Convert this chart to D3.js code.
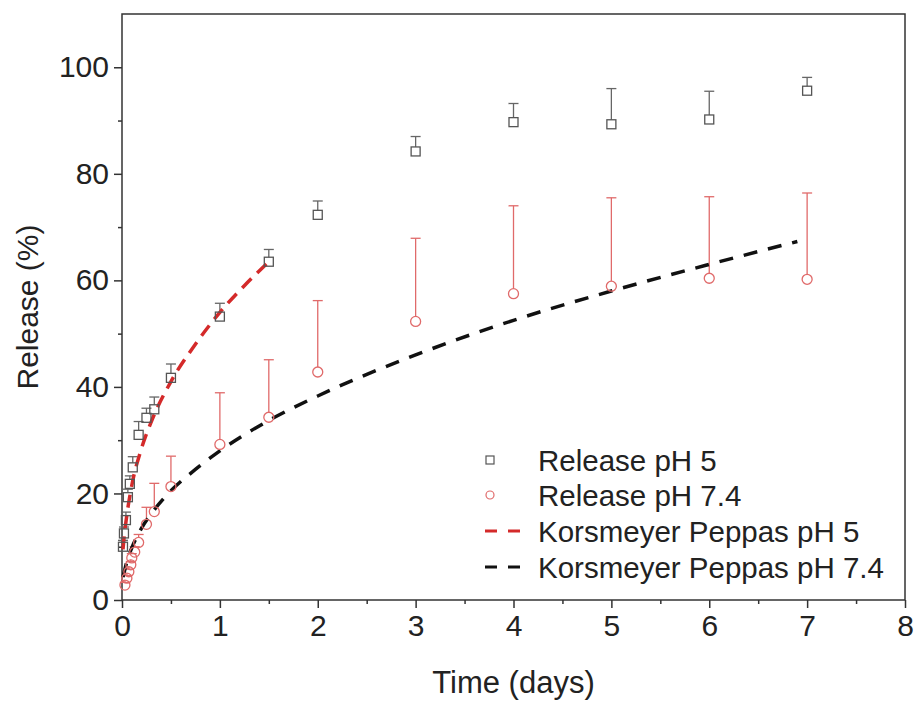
<!DOCTYPE html>
<html>
<head>
<meta charset="utf-8">
<script src="https://cdn.jsdelivr.net/npm/d3@7"></script>
<style>
  body { margin: 0; background: #fff; }
  text { font-family: "Liberation Sans", Arial, sans-serif; fill: #222; }
</style>
</head>
<body>
<div id="chart"></div>
<script>
// measured release, pH 5 (squares) - upper error only
const ph5Time = [0.01, 0.02, 0.04, 0.06, 0.08, 0.11, 0.17, 0.25, 0.33, 0.5, 1, 1.5, 2, 3, 4, 5, 6, 7];
const ph5Release = [10, 12.5, 15, 19.3, 21.8, 24.9, 31, 34.2, 35.8, 41.7, 53.2, 63.5, 72.3, 84.2, 89.7, 89.3, 90.2, 95.6];
const ph5Err = [1.2, 1.2, 1.5, 1.5, 1.5, 2, 2.5, 1.8, 2.3, 2.6, 2.5, 2.3, 2.6, 2.8, 3.5, 6.7, 5.3, 2.5];

// measured release, pH 7.4 (circles)
const ph74Time = [0.03, 0.05, 0.07, 0.09, 0.1, 0.13, 0.17, 0.25, 0.33, 0.5, 1, 1.5, 2, 3, 4, 5, 6, 7];
const ph74Release = [2.8, 4.1, 5.3, 6.6, 7.9, 9.0, 10.8, 14.2, 16.6, 21.3, 29.2, 34.3, 42.8, 52.3, 57.5, 58.9, 60.4, 60.2];
const ph74Err = [0.5, 0.5, 0.5, 0.6, 0.8, 1, 1.5, 3.2, 5.3, 5.7, 9.7, 10.8, 13.4, 15.6, 16.5, 16.6, 15.3, 16.2];

// Korsmeyer-Peppas fit curves
const kpPh5Time = [0.01, 0.02, 0.05, 0.1, 0.2, 0.3, 0.5, 0.75, 1, 1.25, 1.5];
const kpPh5Release = [9.5, 11.5, 16, 21.5, 28.5, 33.5, 41, 48, 54, 59, 63.5];
const kpPh74Time = [0.01, 0.03, 0.06, 0.1, 0.2, 0.3, 0.5, 0.75, 1, 1.5, 2, 3, 4, 5, 6, 6.9];
const kpPh74Release = [4.3, 5.8, 7.9, 9.8, 13.5, 16.2, 20.5, 24.5, 28, 33.7, 38.3, 46, 52.5, 58, 63, 67.3];

const xTicks = [0, 1, 2, 3, 4, 5, 6, 7, 8];
const xMinor = [0.5, 1.5, 2.5, 3.5, 4.5, 5.5, 6.5, 7.5];
const yTicks = [0, 20, 40, 60, 80, 100];
const yMinor = [10, 30, 50, 70, 90];

const legendItems = ["Release pH 5", "Release pH 7.4", "Korsmeyer Peppas pH 5", "Korsmeyer Peppas pH 7.4"];

const width = 915, height = 701;
const margin = { top: 14, right: 10, bottom: 101, left: 122 };

const svg = d3.select("#chart").append("svg")
  .attr("width", width)
  .attr("height", height);

const x = d3.scaleLinear().domain([0, 8]).range([margin.left, width - margin.right]);
const y = d3.scaleLinear().domain([0, 110]).range([height - margin.bottom, margin.top]);

const axisColor = "#333";
const sqColor = "#555";
const ciColor = "#e06a6a";
const redLine = "#d42a2a";

// frame
svg.append("rect")
  .attr("x", x(0)).attr("y", y(110))
  .attr("width", x(8) - x(0)).attr("height", y(0) - y(110))
  .attr("fill", "none").attr("stroke", axisColor).attr("stroke-width", 1.5);

function styleAxis(g) {
  g.select(".domain").remove();
  g.selectAll("line").attr("stroke", axisColor).attr("stroke-width", 1.5);
  g.selectAll("text").attr("fill", "#222");
}

const xAxis = svg.append("g")
  .attr("transform", `translate(0,${y(0)})`)
  .call(d3.axisBottom(x).tickValues(xTicks).tickSize(8).tickPadding(5).tickFormat(d3.format("d")))
  .call(styleAxis);
xAxis.selectAll("text").style("font-size", "30px").attr("dy", "0.75em");

svg.append("g")
  .attr("transform", `translate(0,${y(0)})`)
  .call(d3.axisBottom(x).tickValues(xMinor).tickSize(4).tickFormat(""))
  .call(styleAxis);

const yAxis = svg.append("g")
  .attr("transform", `translate(${x(0)},0)`)
  .call(d3.axisLeft(y).tickValues(yTicks).tickSize(8).tickPadding(5))
  .call(styleAxis);
yAxis.selectAll("text").style("font-size", "30px");

svg.append("g")
  .attr("transform", `translate(${x(0)},0)`)
  .call(d3.axisLeft(y).tickValues(yMinor).tickSize(4).tickFormat(""))
  .call(styleAxis);

// axis titles
svg.append("text")
  .attr("x", (x(0) + x(8)) / 2).attr("y", 693)
  .attr("text-anchor", "middle")
  .style("font-size", "31px")
  .text("Time (days)");

svg.append("text")
  .attr("transform", `translate(38,${(y(0) + y(110)) / 2}) rotate(-90)`)
  .attr("text-anchor", "middle")
  .style("font-size", "30px")
  .text("Release (%)");

const line = d3.line()
  .x(d => x(d[0]))
  .y(d => y(d[1]))
  .curve(d3.curveMonotoneX);

const plot = svg.append("g");

// error bars (upper only)
const ph5 = ph5Time.map((t, i) => ({ t, v: ph5Release[i], e: ph5Err[i] }));
const ph74 = ph74Time.map((t, i) => ({ t, v: ph74Release[i], e: ph74Err[i] }));

function errorBars(data, color, offset) {
  const g = plot.append("g").attr("stroke", color).attr("stroke-width", 1.3);
  g.selectAll(".bar").data(data).enter().append("line")
    .attr("x1", d => x(d.t)).attr("x2", d => x(d.t))
    .attr("y1", d => y(d.v) - offset).attr("y2", d => y(d.v + d.e));
  g.selectAll(".cap").data(data).enter().append("line")
    .attr("x1", d => x(d.t) - 5).attr("x2", d => x(d.t) + 5)
    .attr("y1", d => y(d.v + d.e)).attr("y2", d => y(d.v + d.e));
}
errorBars(ph74, ciColor, 5);
errorBars(ph5, "#666", 4.5);

// fitted curves
plot.append("path")
  .datum(kpPh74Time.map((t, i) => [t, kpPh74Release[i]]))
  .attr("d", line)
  .attr("fill", "none").attr("stroke", "#111").attr("stroke-width", 3.5)
  .attr("stroke-dasharray", "14,11");

plot.append("path")
  .datum(kpPh5Time.map((t, i) => [t, kpPh5Release[i]]))
  .attr("d", line)
  .attr("fill", "none").attr("stroke", redLine).attr("stroke-width", 3.5)
  .attr("stroke-dasharray", "13,8");

// markers
plot.append("g").selectAll("circle").data(ph74).enter().append("circle")
  .attr("cx", d => x(d.t)).attr("cy", d => y(d.v)).attr("r", 5)
  .attr("fill", "none").attr("stroke", ciColor).attr("stroke-width", 1.3);

plot.append("g").selectAll("rect").data(ph5).enter().append("rect")
  .attr("x", d => x(d.t) - 4.5).attr("y", d => y(d.v) - 4.5)
  .attr("width", 9).attr("height", 9)
  .attr("fill", "none").attr("stroke", sqColor).attr("stroke-width", 1.3);

// legend
const legendY = [460, 495, 531, 567];
const legend = svg.append("g");
legendItems.forEach((label, i) => {
  const cy = legendY[i];
  if (i === 0) {
    legend.append("rect").attr("x", 486).attr("y", cy - 4).attr("width", 8).attr("height", 8)
      .attr("fill", "none").attr("stroke", sqColor).attr("stroke-width", 1.2);
  } else if (i === 1) {
    legend.append("circle").attr("cx", 490).attr("cy", cy).attr("r", 4)
      .attr("fill", "none").attr("stroke", ciColor).attr("stroke-width", 1.2);
  } else {
    legend.append("line").attr("x1", 485).attr("x2", 525).attr("y1", cy).attr("y2", cy)
      .attr("stroke", i === 2 ? redLine : "#111").attr("stroke-width", 3)
      .attr("stroke-dasharray", "12,11");
  }
  legend.append("text")
    .attr("x", 538).attr("y", cy).attr("dy", "0.36em")
    .style("font-size", "29.5px")
    .text(label);
});
</script>
</body>
</html>
